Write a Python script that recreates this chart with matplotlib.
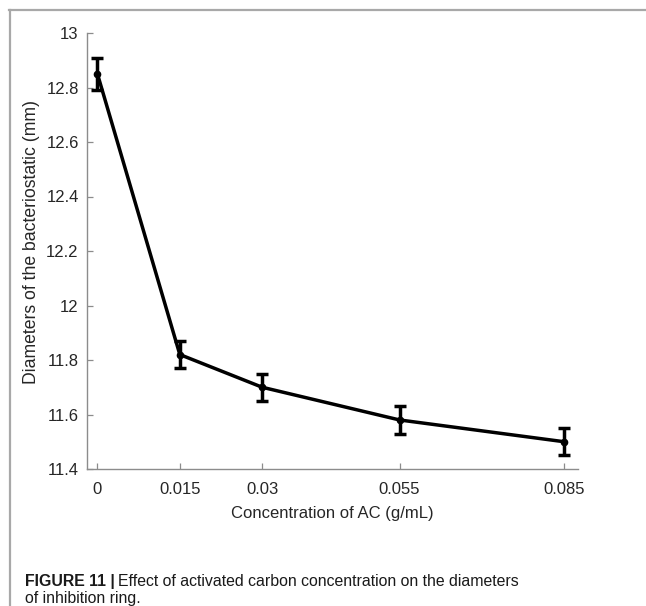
import matplotlib
matplotlib.use("Agg")
import matplotlib.pyplot as plt
from matplotlib.lines import Line2D

plt.rcParams['font.family'] = ['Liberation Sans', 'DejaVu Sans']

concentration = [0, 0.015, 0.03, 0.055, 0.085]
tick_labels = ["0", "0.015", "0.03", "0.055", "0.085"]
diameter = [12.85, 11.82, 11.70, 11.58, 11.50]
error = [0.06, 0.05, 0.05, 0.05, 0.05]

W, H = 646, 606
fig = plt.figure(figsize=(W / 100, H / 100), dpi=100)
ax = fig.add_axes([87 / W, 1 - 469 / H, (578 - 87) / W, (469 - 33) / H])

ax.errorbar(concentration, diameter, yerr=error, color='black', lw=2.5,
            marker='o', ms=4.5, elinewidth=2.5, capsize=4, capthick=2.5)

ax.set_xlim(-0.0019, 0.0875)
ax.set_ylim(11.4, 13.0)
ax.set_xticks(concentration)
ax.set_xticklabels(tick_labels)
ax.set_yticks([11.4, 11.6, 11.8, 12.0, 12.2, 12.4, 12.6, 12.8, 13.0])
ax.set_yticklabels(["11.4", "11.6", "11.8", "12", "12.2", "12.4", "12.6", "12.8", "13"])
for s in ['top', 'right']:
    ax.spines[s].set_visible(False)
for s in ['left', 'bottom']:
    ax.spines[s].set_color('#8c8c8c')
    ax.spines[s].set_linewidth(1.0)
ax.tick_params(direction='in', length=4, width=0.9, color='#8c8c8c',
               labelsize=12, labelcolor='#262626')
ax.tick_params(axis='x', pad=9)
ax.tick_params(axis='y', pad=6)
ax.set_xlabel("Concentration of AC (g/mL)", fontsize=12, color='#262626', labelpad=7)
ax.set_ylabel("Diameters of the bacteriostatic (mm)", fontsize=12.7, color='#262626',
              va='center')
ax.yaxis.set_label_coords(-0.114, 0.52)

# outer frame lines (top and left)
fig.add_artist(Line2D([9 / W, 1], [1 - 10 / H, 1 - 10 / H], transform=fig.transFigure,
                      color='#a8a8a8', lw=1.6))
fig.add_artist(Line2D([10 / W, 10 / W], [0, 1 - 10 / H], transform=fig.transFigure,
                      color='#a8a8a8', lw=1.6))

# caption
y1 = 1 - 586 / H
t1 = fig.text(25 / W, y1, "FIGURE 11 |", fontsize=11.4, fontweight='bold',
              color='#1a1a1a', va='baseline')
fig.canvas.draw()
bb = t1.get_window_extent(fig.canvas.get_renderer())
fig.text(bb.x1 / W + 3 / W, y1, "Effect of activated carbon concentration on the diameters",
         fontsize=11.4, color='#1a1a1a', va='baseline')
fig.text(25 / W, 1 - 603 / H, "of inhibition ring.", fontsize=11.4, color='#1a1a1a',
         va='baseline')

fig.savefig("out.png", dpi=100)
